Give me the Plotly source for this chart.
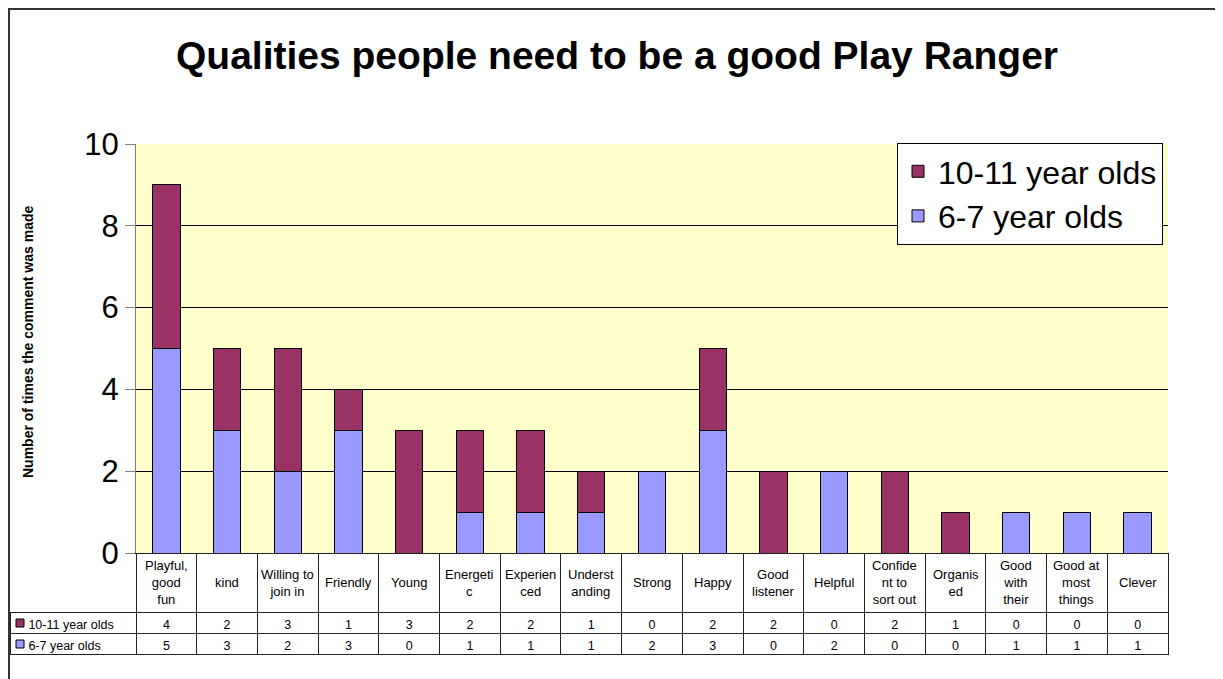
import plotly.graph_objects as go

W, H = 1223, 679
OFF = 8  # page body margin in the browser

categories = ["Playful,\ngood\nfun", "kind", "Willing to\njoin in", "Friendly", "Young",
              "Energeti\nc", "Experien\nced", "Underst\nanding", "Strong", "Happy",
              "Good\nlistener", "Helpful", "Confide\nnt to\nsort out", "Organis\ned",
              "Good\nwith\ntheir", "Good at\nmost\nthings", "Clever"]
older = [4, 2, 3, 1, 3, 2, 2, 1, 0, 2, 2, 0, 2, 1, 0, 0, 0]
younger = [5, 3, 2, 3, 0, 1, 1, 1, 2, 3, 0, 2, 0, 0, 1, 1, 1]
series_names = ["10-11 year olds", "6-7 year olds"]
colors = ["#993366", "#9999FF"]

font = "Arial, Liberation Sans, sans-serif"
names = [c.replace("\n", " ") for c in categories]


def px(x):
    return (x - OFF) / W


def py(y):
    return 1 - (y - OFF) / H


fig = go.Figure()

# stacked bars: younger on the bottom, older on top
fig.add_trace(go.Bar(x=names, y=younger, name=series_names[1],
                     marker=dict(color=colors[1], line=dict(color="black", width=1))))
fig.add_trace(go.Bar(x=names, y=older, name=series_names[0],
                     marker=dict(color=colors[0], line=dict(color="black", width=1))))

# data table under the chart
nb = "\u00a0" * 3
key_col = [nb + series_names[0], nb + series_names[1]]
cell_cols = [key_col] + [[str(o), str(y)] for o, y in zip(older, younger)]
n = len(categories)

fig.add_trace(go.Table(
    domain=dict(x=[px(10), px(1168)], y=[0, py(553)]),
    columnwidth=[126] + [60.7] * n,
    header=dict(values=[""] * (n + 1), height=59,
                fill_color="rgba(0,0,0,0)",
                line=dict(color=["rgba(0,0,0,0)"] + ["#222222"] * n, width=1)),
    cells=dict(values=cell_cols, height=21,
               align=["left"] + ["center"] * n,
               fill_color="white",
               line=dict(color="#222222", width=1),
               font=dict(family=font, size=12.5, color="black")),
))

# category labels in the table header row, placed on the category axis
annotations = [dict(text=c.replace("\n", "<br>"), x=nm, xref="x",
                    y=py(582.5), yref="paper", yanchor="middle",
                    align="center", showarrow=False,
                    font=dict(size=13, family=font, color="black"))
               for c, nm in zip(categories, names)]
annotations.append(dict(text="<b>Number of times the comment was made</b>",
                        x=px(18), y=py(342), xref="paper", yref="paper",
                        textangle=-90, showarrow=False,
                        font=dict(size=14, family=font, color="black")))

# small colour keys in the table's first column
shapes = [dict(type="rect", xref="paper", yref="paper",
               x0=px(16), x1=px(24), y0=py(yc + 4), y1=py(yc - 4),
               fillcolor=col, line=dict(color="black", width=1))
          for yc, col in zip([623, 644], colors)]
shapes.append(dict(type="rect", xref="paper", yref="paper",
                   x0=px(9), x1=px(1220), y0=-0.1, y1=py(9),
                   line=dict(color="#333333", width=2)))

fig.update_layout(
    width=W, height=H,
    margin=dict(l=0, r=0, t=0, b=0, autoexpand=False),
    paper_bgcolor="white",
    plot_bgcolor="#FFFFCC",
    barmode="stack",
    bargap=0.55,
    font=dict(family=font, color="black"),
    title=dict(text="<b>Qualities people need to be a good Play Ranger</b>",
               x=px(617), xanchor="center", y=py(55), yanchor="middle",
               font=dict(size=39, family=font, color="black")),
    xaxis=dict(domain=[px(136), px(1168)], showticklabels=False,
               showline=True, linecolor="black", linewidth=1, ticks="",
               automargin=False),
    yaxis=dict(domain=[py(553), py(144)], range=[0, 10], dtick=2,
               showgrid=True, gridcolor="black", gridwidth=1,
               showline=True, linecolor="#808080", linewidth=1,
               ticks="outside", ticklen=10, tickcolor="#808080",
               tickfont=dict(size=31, family=font, color="black"),
               zeroline=False, automargin=False),
    legend=dict(x=px(897), y=py(143), xanchor="left", yanchor="top",
                traceorder="reversed", bgcolor="white",
                bordercolor="black", borderwidth=1,
                font=dict(size=32, family=font, color="black")),
    shapes=shapes,
    annotations=annotations,
)

fig.write_html("out.html")
